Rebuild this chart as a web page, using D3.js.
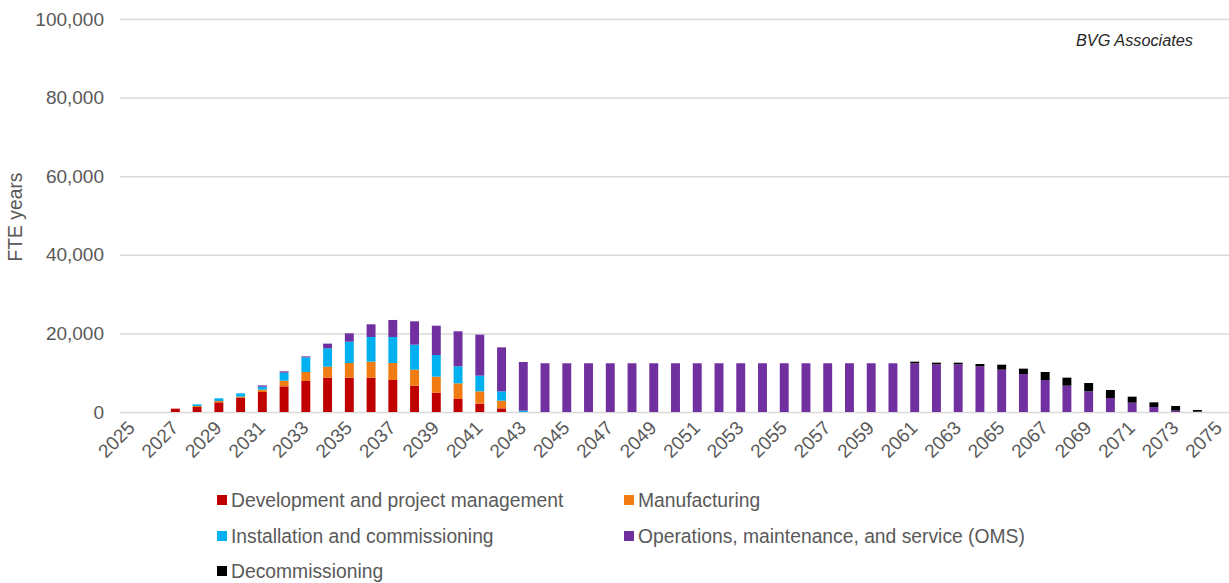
<!DOCTYPE html>
<html>
<head>
<meta charset="utf-8">
<script src="https://cdn.jsdelivr.net/npm/d3@7"></script>
<style>
  html, body { margin: 0; padding: 0; background: #ffffff; }
  svg { display: block; font-family: "Liberation Sans", Arial, sans-serif; }
</style>
</head>
<body>
<svg id="chart" width="1229" height="583"></svg>
<script>
// Years on the category axis
const years = d3.range(2025, 2076);

// FTE years by activity, one value per year (2025–2075)
const development = [
  0, 0, 850, 1270, 2460, 3560, 5090, 6530, 7890, 8740,
  8740, 8740, 8140, 6700, 4920, 3310, 2120, 930, 0, 0,
  0, 0, 0, 0, 0, 0, 0, 0, 0, 0,
  0, 0, 0, 0, 0, 0, 0, 0, 0, 0,
  0, 0, 0, 0, 0, 0, 0, 0, 0, 0, 0
];
const manufacturing = [
  0, 0, 0, 250, 340, 340, 590, 1440, 2290, 2800,
  3730, 4070, 4330, 4070, 4070, 3990, 3140, 1950, 0, 0,
  0, 0, 0, 0, 0, 0, 0, 0, 0, 0,
  0, 0, 0, 0, 0, 0, 0, 0, 0, 0,
  0, 0, 0, 0, 0, 0, 0, 0, 0, 0, 0
];
const installation = [
  0, 0, 0, 420, 680, 850, 760, 2040, 3730, 4670,
  5430, 6280, 6620, 6360, 5510, 4330, 3990, 2370, 340, 0,
  0, 0, 0, 0, 0, 0, 0, 0, 0, 0,
  0, 0, 0, 0, 0, 0, 0, 0, 0, 0,
  0, 0, 0, 0, 0, 0, 0, 0, 0, 0, 0
];
const operations = [
  0, 0, 0, 0, 0, 0, 340, 340, 250, 1190,
  2120, 3220, 4330, 5940, 7460, 8910, 10430, 11200, 12380, 12400,
  12400, 12400, 12400, 12400, 12400, 12400, 12400, 12400, 12400, 12400,
  12400, 12400, 12400, 12400, 12400, 12400, 12380, 12130, 12130, 11620,
  10770, 9670, 8140, 6700, 5260, 3560, 2370, 1270, 340, 100, 0
];
const decommissioning = [
  0, 0, 0, 0, 0, 0, 0, 0, 0, 0,
  0, 0, 0, 0, 0, 0, 0, 0, 0, 0,
  0, 0, 0, 0, 0, 0, 0, 0, 0, 0,
  0, 0, 0, 0, 0, 0, 420, 420, 420, 590,
  1270, 1360, 2040, 2040, 2120, 2040, 1530, 1190, 1190, 420, 0
];

const seriesNames = [
  "Development and project management",
  "Manufacturing",
  "Installation and commissioning",
  "Operations, maintenance, and service (OMS)",
  "Decommissioning"
];
const seriesValues = [development, manufacturing, installation, operations, decommissioning];
const seriesColors = ["#C00000", "#F07C13", "#00B0F0", "#7030A0", "#000000"];

const yTicks = [0, 20000, 40000, 60000, 80000, 100000];
const xTickYears = years.filter(y => (y - 2025) % 2 === 0);

const svg = d3.select("#chart");
const textColor = "#595959";

const x = d3.scaleBand()
  .domain(years)
  .range([121, 1230])
  .paddingInner(0.59)
  .paddingOuter(0.295);

const y = d3.scaleLinear()
  .domain([0, 100000])
  .range([412, 19]);

// Horizontal gridlines and value labels
const yAxis = d3.axisLeft(y)
  .tickValues(yTicks)
  .tickSize(-(1229 - 120))
  .tickPadding(16)
  .tickFormat(d3.format(","));

svg.append("g")
  .attr("transform", "translate(120,0)")
  .call(yAxis)
  .call(g => g.select(".domain").remove())
  .call(g => g.selectAll(".tick line").attr("stroke", "#d9d9d9").attr("stroke-width", 1.5))
  .call(g => g.selectAll(".tick text")
    .attr("fill", textColor)
    .attr("font-size", 19)
    .attr("font-family", "Liberation Sans, Arial, sans-serif"));

// Stacked bars
const rows = years.map((yr, i) => {
  const r = { year: yr };
  seriesNames.forEach((n, k) => { r[n] = seriesValues[k][i]; });
  return r;
});
const stacked = d3.stack().keys(seriesNames)(rows);

svg.append("g")
  .selectAll("g")
  .data(stacked)
  .join("g")
  .attr("fill", (d, i) => seriesColors[i])
  .selectAll("rect")
  .data(d => d.filter(p => p[1] - p[0] > 0))
  .join("rect")
  .attr("x", p => x(p.data.year))
  .attr("width", x.bandwidth())
  .attr("y", p => y(p[1]))
  .attr("height", p => y(p[0]) - y(p[1]));

// Category axis labels, every other year, slanted
const xAxis = d3.axisBottom(x)
  .tickValues(xTickYears)
  .tickSize(0)
  .tickPadding(0);

svg.append("g")
  .attr("transform", "translate(0,412)")
  .call(xAxis)
  .call(g => g.select(".domain").remove())
  .call(g => g.selectAll(".tick text")
    .attr("fill", textColor)
    .attr("font-size", 19)
    .attr("font-family", "Liberation Sans, Arial, sans-serif")
    .attr("text-anchor", "end")
    .attr("dy", null)
    .attr("y", 0)
    .attr("transform", "translate(4,17) rotate(-45)"));

// Axis title
svg.append("text")
  .attr("transform", "translate(22,217) rotate(-90)")
  .attr("text-anchor", "middle")
  .attr("fill", textColor)
  .attr("font-size", 19.3)
  .text("FTE years");

// Source note
svg.append("text")
  .attr("x", 1193)
  .attr("y", 46)
  .attr("text-anchor", "end")
  .attr("font-style", "italic")
  .attr("fill", "#262626")
  .attr("font-size", 16.3)
  .text("BVG Associates");

// Legend
const legendPos = [
  [217, 500], [624, 500],
  [217, 536], [624, 536],
  [217, 571]
];
const legend = svg.append("g")
  .selectAll("g")
  .data(seriesNames)
  .join("g")
  .attr("transform", (d, i) => `translate(${legendPos[i][0]},${legendPos[i][1]})`);

legend.append("rect")
  .attr("x", 0)
  .attr("y", -5)
  .attr("width", 10)
  .attr("height", 10)
  .attr("fill", (d, i) => seriesColors[i]);

legend.append("text")
  .attr("x", 14)
  .attr("y", 0)
  .attr("dy", "0.35em")
  .attr("fill", textColor)
  .attr("font-size", 19.3)
  .text(d => d);
</script>
</body>
</html>
